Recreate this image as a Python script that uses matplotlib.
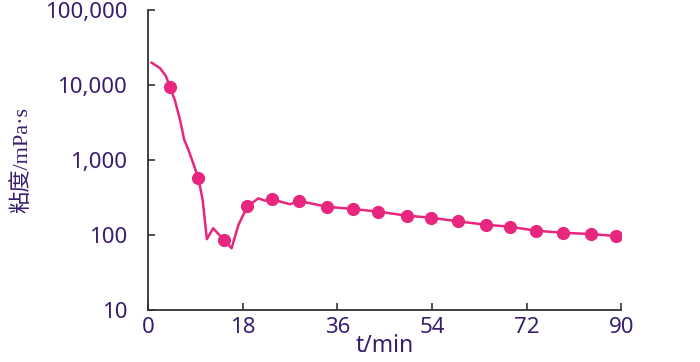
import matplotlib
matplotlib.use('Agg')
import matplotlib.pyplot as plt
from matplotlib.ticker import FuncFormatter, NullLocator

# viscosity curve (t in min, viscosity in mPa.s)
line_t = [0.7, 2.3, 3.4, 4.2, 5.1, 6.1, 6.9, 7.7, 8.6, 9.6, 10.4, 11.2, 12.4, 13.4, 14.5,
          15.9, 17.2, 18.9, 21.0, 22.2, 23.5, 27.0, 28.8, 34.0, 39.0, 43.8, 49.2, 53.9,
          58.9, 64.3, 68.8, 73.8, 79.0, 84.2, 89.0]
line_v = [19800, 16700, 13200, 9300, 6300, 3410, 1850, 1360, 904, 567, 293, 88, 123, 103, 86,
          66.5, 136, 240, 308, 287, 300, 257, 284, 238, 222, 205, 181, 170,
          152, 137, 129, 114, 107, 103, 97]

# measured points (markers)
pt_t = [4.2, 9.6, 14.5, 18.9, 23.5, 28.8, 34.0, 39.0, 43.8, 49.2, 53.9, 58.9, 64.3, 68.8,
        73.8, 79.0, 84.2, 89.0]
pt_v = [9300, 567, 86, 240, 300, 284, 238, 222, 205, 181, 170, 152, 137, 129, 114, 107, 103, 97]

x_ticks = [0, 18, 36, 54, 72, 90]
y_ticks = [10, 100, 1000, 10000, 100000]

plt.rcParams['font.family'] = ['Noto Sans', 'Noto Sans CJK SC', 'DejaVu Sans']

text_color = '#3a1e6e'
line_color = '#e8267e'

fig = plt.figure(figsize=(7, 3.62), dpi=100)
ax = fig.add_axes([0.2114, 0.1436, 0.676, 0.829])

ax.plot(line_t, line_v, color=line_color, lw=1.8, zorder=2)
ax.plot(pt_t, pt_v, 'o', color=line_color, ms=8.5, zorder=3)

ax.set_yscale('log')
ax.set_xlim(0, 90)
ax.set_ylim(10, 100000)
ax.set_xticks(x_ticks)
ax.set_yticks(y_ticks)
ax.yaxis.set_minor_locator(NullLocator())
ax.yaxis.set_major_formatter(FuncFormatter(lambda v, p: '{:,}'.format(int(round(v)))))

for s in ['top', 'right']:
    ax.spines[s].set_visible(False)
for s in ['left', 'bottom']:
    ax.spines[s].set_color('#333333')
    ax.spines[s].set_linewidth(1.3)

ax.tick_params(direction='in', length=5, width=1.2, color='#333333',
               labelsize=16, labelcolor=text_color)
ax.tick_params(axis='x', pad=5)
ax.tick_params(axis='y', pad=15)

ax.set_xlabel('t/min', fontsize=16.5, color=text_color, labelpad=-3)
ax.set_ylabel('粘度/mPa·s', fontsize=16, color=text_color,
              family=['Liberation Serif', 'Noto Sans CJK SC', 'DejaVu Sans'])
ax.yaxis.set_label_coords(-0.245, 0.5)

fig.savefig('out.png', dpi=100)
